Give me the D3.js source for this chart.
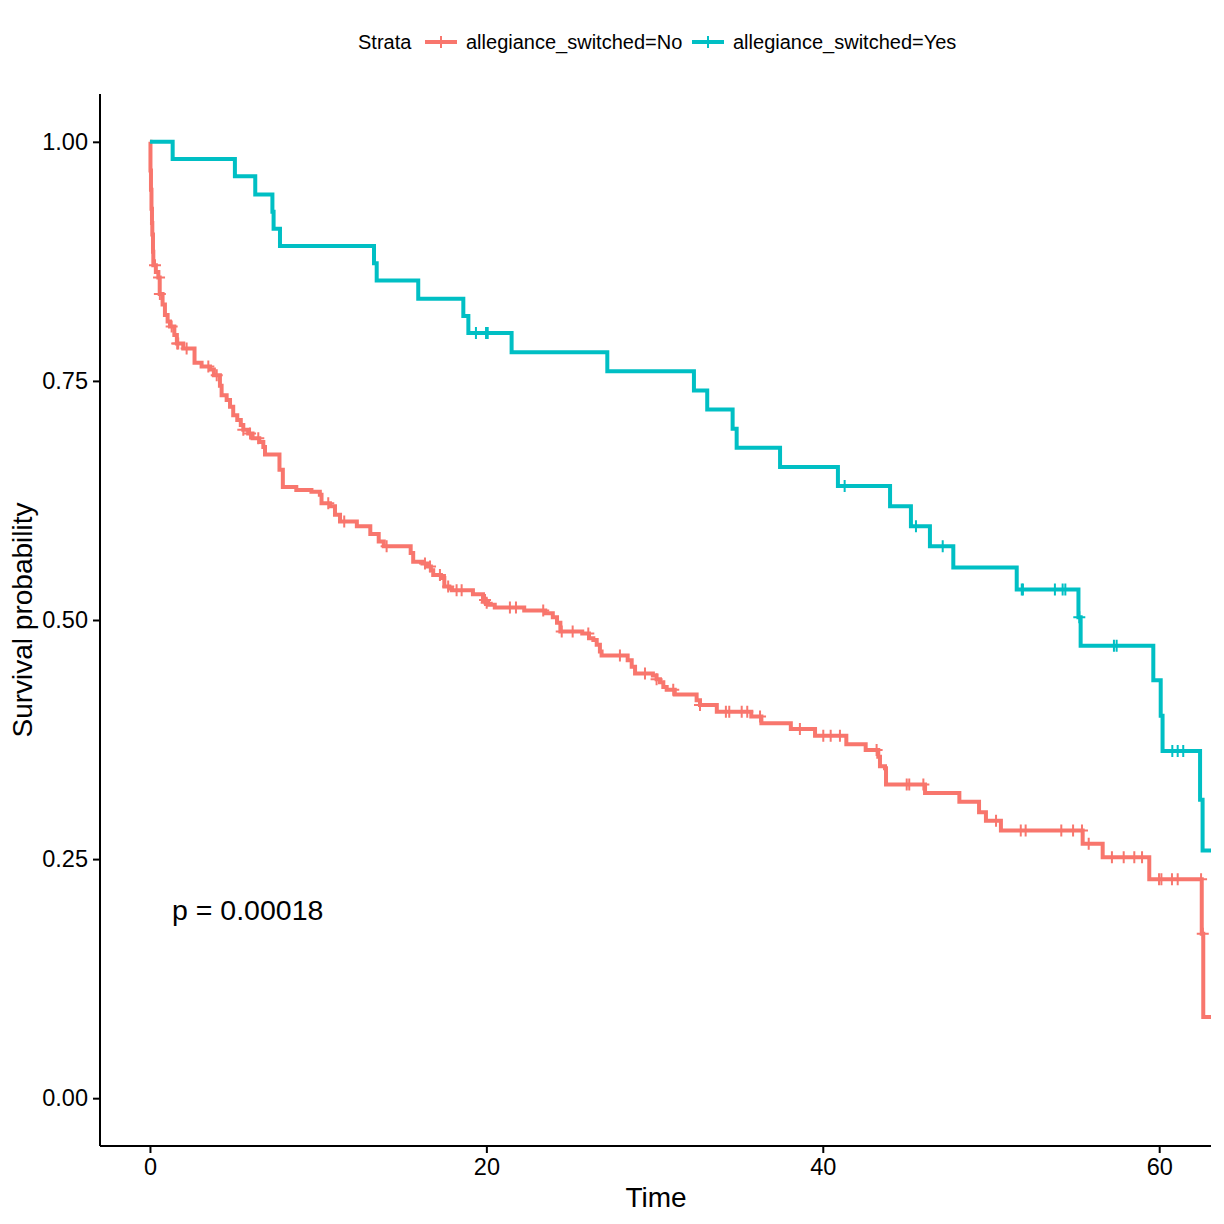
<!DOCTYPE html>
<html>
<head>
<meta charset="utf-8">
<script src="https://cdn.jsdelivr.net/npm/d3@7"></script>
<style>
  body { margin: 0; background: #fff; }
  text { font-family: "Liberation Sans", Arial, sans-serif; }
</style>
</head>
<body>
<div id="chart"></div>
<script>
// Kaplan-Meier steps: [time, survival after this time]
const stepsNo = [
  [0, 1.0], [0.03, 0.97], [0.06, 0.95], [0.09, 0.93], [0.12, 0.915], [0.14, 0.903],
  [0.18, 0.885], [0.2, 0.871], [0.35, 0.864], [0.5, 0.858], [0.58, 0.841], [0.75, 0.83],
  [0.89, 0.819], [1.05, 0.812], [1.19, 0.807], [1.45, 0.798], [1.6, 0.789], [1.98, 0.784],
  [2.65, 0.769], [3.07, 0.765], [3.57, 0.762], [3.8, 0.756], [4.16, 0.745], [4.26, 0.735],
  [4.56, 0.73], [4.76, 0.723], [4.95, 0.714], [5.19, 0.709], [5.4, 0.704], [5.55, 0.699],
  [5.84, 0.695], [6.1, 0.69], [6.5, 0.686], [6.74, 0.681], [6.84, 0.673], [7.7, 0.657],
  [7.9, 0.639], [8.7, 0.636], [9.6, 0.634], [10.1, 0.631], [10.2, 0.622], [10.7, 0.619],
  [11.0, 0.61], [11.3, 0.603], [12.3, 0.598], [13.1, 0.59], [13.6, 0.582], [13.9, 0.577],
  [15.5, 0.57], [15.65, 0.561], [16.2, 0.559], [16.5, 0.556], [16.7, 0.552], [16.84, 0.547],
  [17.3, 0.544], [17.5, 0.535], [17.8, 0.533], [17.95, 0.531], [19.2, 0.527], [19.8, 0.521],
  [19.95, 0.518], [20.1, 0.516], [20.5, 0.513], [22.25, 0.51], [23.5, 0.507], [23.95, 0.503],
  [24.2, 0.497], [24.4, 0.488], [25.7, 0.486], [26.1, 0.481], [26.36, 0.479], [26.56, 0.474],
  [26.75, 0.467], [26.85, 0.463], [28.4, 0.458], [28.64, 0.451], [28.84, 0.444], [29.9, 0.442],
  [30.12, 0.438], [30.32, 0.435], [30.52, 0.43], [30.72, 0.427], [31.2, 0.422], [32.5, 0.416],
  [32.7, 0.411], [33.7, 0.404], [35.75, 0.399], [36.35, 0.392], [38.1, 0.386], [39.54, 0.379],
  [41.4, 0.37], [42.55, 0.364], [43.3, 0.357], [43.4, 0.347], [43.7, 0.345], [43.76, 0.328],
  [46.08, 0.319], [48.12, 0.31], [49.29, 0.299], [49.7, 0.29], [50.59, 0.28], [55.45, 0.266],
  [56.64, 0.252], [59.41, 0.229], [62.53, 0.172], [62.62, 0.085]
];
const censorNo = [
  0.3, 0.54, 0.59, 1.29, 1.62, 1.68, 2.18, 3.47, 3.97, 5.55, 5.95, 6.44, 10.6, 11.55,
  14.07, 16.35, 16.65, 17.24, 17.73, 18.23, 18.53, 19.92, 20.02, 21.4, 21.76, 23.38, 24.48,
  25.13, 26.06, 27.94, 29.43, 30.12, 31.11, 32.7, 34.24, 34.44, 35.18, 35.51, 36.27, 38.64,
  40.03, 40.47, 41.02, 43.2, 44.99, 45.14, 45.98, 50.3, 51.77, 52.06, 54.18, 54.88, 55.41,
  55.81, 57.19, 57.89, 58.52, 58.98, 59.99, 60.13, 60.76, 61.1, 62.49, 62.59
];

const stepsYes = [
  [0, 1.0], [1.35, 0.982], [5.05, 0.964], [6.26, 0.945], [7.28, 0.927], [7.35, 0.909],
  [7.73, 0.891], [13.32, 0.873], [13.48, 0.855], [15.95, 0.836], [18.63, 0.818], [18.93, 0.8],
  [21.5, 0.78], [27.19, 0.76], [32.34, 0.74], [33.13, 0.72], [34.64, 0.7], [34.88, 0.68],
  [37.46, 0.66], [40.9, 0.64], [44.0, 0.619], [45.24, 0.598], [46.37, 0.577], [47.76, 0.555],
  [51.53, 0.532], [55.2, 0.503], [55.33, 0.473], [59.65, 0.437], [60.09, 0.4], [60.2, 0.363],
  [62.43, 0.312], [62.58, 0.259]
];
const censorYes = [
  19.38, 19.98, 20.08, 41.3, 45.54, 47.13, 51.83, 51.9, 53.8, 54.26, 54.42, 55.25,
  57.31, 57.47, 60.78, 61.1, 61.43
];

const lastTime = 63.2;
const strataNames = ["allegiance_switched=No", "allegiance_switched=Yes"];
const strataColors = ["#F8766D", "#00BFC4"];
const xTicks = [0, 20, 40, 60];
const yTicks = [0, 0.25, 0.5, 0.75, 1.0];
const pLabel = "p = 0.00018";

const width = 1224, height = 1224;
const panel = { left: 100, right: 1211, top: 94, bottom: 1146 };

const svg = d3.select("#chart").append("svg")
  .attr("width", width).attr("height", height);

const x = d3.scaleLinear().domain([-2.97, 63.08]).range([panel.left, panel.right]);
const y = d3.scaleLinear().domain([-0.05, 1.05]).range([panel.bottom, panel.top]);

svg.append("defs").append("clipPath").attr("id", "clip")
  .append("rect")
  .attr("x", panel.left).attr("y", panel.top - 5)
  .attr("width", panel.right - panel.left).attr("height", panel.bottom - panel.top + 5);

const plot = svg.append("g").attr("clip-path", "url(#clip)");

const line = d3.line()
  .x(d => x(d[0])).y(d => y(d[1]))
  .curve(d3.curveStepAfter);

function survAt(steps, t) {
  let s = steps[0][1];
  for (const st of steps) { if (st[0] <= t) s = st[1]; }
  return s;
}

const series = [
  { steps: stepsNo, censor: censorNo, color: strataColors[0] },
  { steps: stepsYes, censor: censorYes, color: strataColors[1] }
];

series.forEach(sr => {
  const pts = sr.steps.concat([[lastTime, sr.steps[sr.steps.length - 1][1]]]);
  plot.append("path")
    .attr("d", line(pts))
    .attr("fill", "none")
    .attr("stroke", sr.color)
    .attr("stroke-width", 4)
    .attr("stroke-linejoin", "miter");

  const cg = plot.append("g");
  sr.censor.forEach(t => {
    const cx = x(t), cy = y(survAt(sr.steps, t));
    cg.append("path")
      .attr("d", `M${cx - 6},${cy}H${cx + 6}M${cx},${cy - 6}V${cy + 6}`)
      .attr("stroke", sr.color)
      .attr("stroke-width", 2);
  });
});

// Axes
const xAxis = svg.append("g")
  .attr("transform", `translate(0,${panel.bottom})`)
  .call(d3.axisBottom(x).tickValues(xTicks).tickSize(7).tickPadding(5).tickFormat(d3.format("d")));
const yAxis = svg.append("g")
  .attr("transform", `translate(${panel.left},0)`)
  .call(d3.axisLeft(y).tickValues(yTicks).tickSize(7).tickPadding(5).tickFormat(d3.format(".2f")));

[xAxis, yAxis].forEach(g => {
  g.select(".domain").attr("stroke", "#000").attr("stroke-width", 2);
  g.selectAll(".tick line").attr("stroke", "#000").attr("stroke-width", 2);
  g.selectAll(".tick text").attr("fill", "#000").style("font-size", "23.5px")
    .style("font-family", '"Liberation Sans", Arial, sans-serif');
});
xAxis.select(".domain").attr("d", `M${panel.left},0H${panel.right}`);
yAxis.select(".domain").attr("d", `M0,${panel.top}V${panel.bottom}`);

// Axis titles
svg.append("text")
  .attr("x", (panel.left + panel.right) / 2 + 0.5)
  .attr("y", 1207)
  .attr("text-anchor", "middle")
  .style("font-size", "28px")
  .text("Time");

svg.append("text")
  .attr("transform", `translate(32,${(panel.top + panel.bottom) / 2}) rotate(-90)`)
  .attr("text-anchor", "middle")
  .style("font-size", "28px")
  .text("Survival probability");

// p value
svg.append("text")
  .attr("x", x(1.31))
  .attr("y", y(0.197) + 10)
  .style("font-size", "28.5px")
  .text(pLabel);

// Legend
const legend = svg.append("g");
legend.append("text")
  .attr("x", 358).attr("y", 49)
  .style("font-size", "20px")
  .text("Strata");

const keyX = [425, 692];
strataNames.forEach((name, i) => {
  const kx = keyX[i];
  legend.append("line")
    .attr("x1", kx).attr("x2", kx + 32).attr("y1", 42).attr("y2", 42)
    .attr("stroke", strataColors[i]).attr("stroke-width", 4);
  legend.append("path")
    .attr("d", `M${kx + 16},${36}V${48}`)
    .attr("stroke", strataColors[i]).attr("stroke-width", 2);
  legend.append("text")
    .attr("x", kx + 41).attr("y", 49)
    .style("font-size", "20px")
    .text(name);
});
</script>
</body>
</html>
